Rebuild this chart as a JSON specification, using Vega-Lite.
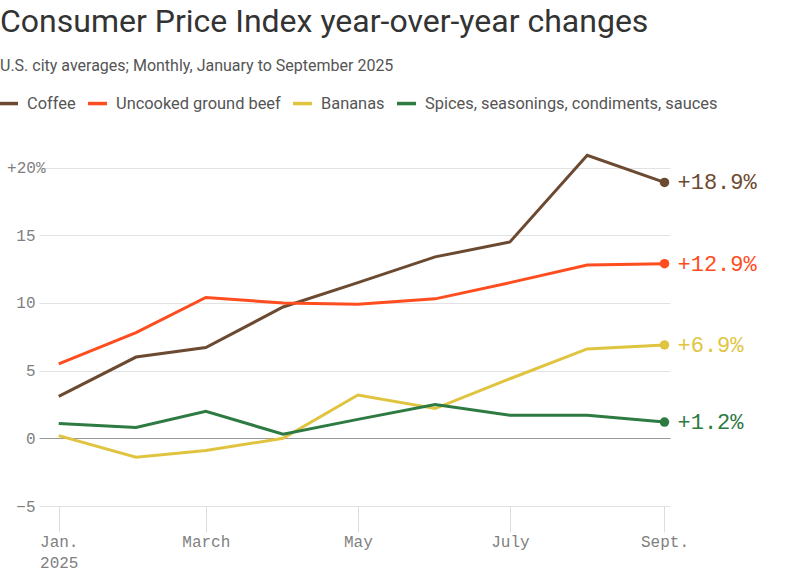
{
  "$schema": "https://vega.github.io/schema/vega-lite/v6.json",
  "width": 631,
  "height": 352,
  "autosize": "none",
  "padding": {"left": 39, "top": 154, "right": 130, "bottom": 72},
  "background": "white",
  "title": {
    "text": "Consumer Price Index year-over-year changes",
    "subtitle": "U.S. city averages; Monthly, January to September 2025",
    "anchor": "start",
    "frame": "group",
    "dx": -39,
    "offset": 17,
    "font": "Roboto",
    "fontSize": 32,
    "fontWeight": "normal",
    "color": "#333333",
    "subtitleFont": "Roboto",
    "subtitleFontSize": 16,
    "subtitleColor": "#555555",
    "subtitlePadding": 19
  },
  "config": {"view": {"stroke": null}},
  "data": {
    "values": [
      {"date": "2025-01-01", "series": "Coffee", "value": 3.1},
      {"date": "2025-02-01", "series": "Coffee", "value": 6.0},
      {"date": "2025-03-01", "series": "Coffee", "value": 6.7},
      {"date": "2025-04-01", "series": "Coffee", "value": 9.7},
      {"date": "2025-05-01", "series": "Coffee", "value": 11.5},
      {"date": "2025-06-01", "series": "Coffee", "value": 13.4},
      {"date": "2025-07-01", "series": "Coffee", "value": 14.5},
      {"date": "2025-08-01", "series": "Coffee", "value": 20.9},
      {"date": "2025-09-01", "series": "Coffee", "value": 18.9},
      {"date": "2025-01-01", "series": "Uncooked ground beef", "value": 5.5},
      {"date": "2025-02-01", "series": "Uncooked ground beef", "value": 7.8},
      {"date": "2025-03-01", "series": "Uncooked ground beef", "value": 10.4},
      {"date": "2025-04-01", "series": "Uncooked ground beef", "value": 10.0},
      {"date": "2025-05-01", "series": "Uncooked ground beef", "value": 9.9},
      {"date": "2025-06-01", "series": "Uncooked ground beef", "value": 10.3},
      {"date": "2025-07-01", "series": "Uncooked ground beef", "value": 11.5},
      {"date": "2025-08-01", "series": "Uncooked ground beef", "value": 12.8},
      {"date": "2025-09-01", "series": "Uncooked ground beef", "value": 12.9},
      {"date": "2025-01-01", "series": "Bananas", "value": 0.2},
      {"date": "2025-02-01", "series": "Bananas", "value": -1.4},
      {"date": "2025-03-01", "series": "Bananas", "value": -0.9},
      {"date": "2025-04-01", "series": "Bananas", "value": 0.0},
      {"date": "2025-05-01", "series": "Bananas", "value": 3.2},
      {"date": "2025-06-01", "series": "Bananas", "value": 2.2},
      {"date": "2025-07-01", "series": "Bananas", "value": 4.4},
      {"date": "2025-08-01", "series": "Bananas", "value": 6.6},
      {"date": "2025-09-01", "series": "Bananas", "value": 6.9},
      {"date": "2025-01-01", "series": "Spices, seasonings, condiments, sauces", "value": 1.1},
      {"date": "2025-02-01", "series": "Spices, seasonings, condiments, sauces", "value": 0.8},
      {"date": "2025-03-01", "series": "Spices, seasonings, condiments, sauces", "value": 2.0},
      {"date": "2025-04-01", "series": "Spices, seasonings, condiments, sauces", "value": 0.3},
      {"date": "2025-05-01", "series": "Spices, seasonings, condiments, sauces", "value": 1.4},
      {"date": "2025-06-01", "series": "Spices, seasonings, condiments, sauces", "value": 2.5},
      {"date": "2025-07-01", "series": "Spices, seasonings, condiments, sauces", "value": 1.7},
      {"date": "2025-08-01", "series": "Spices, seasonings, condiments, sauces", "value": 1.7},
      {"date": "2025-09-01", "series": "Spices, seasonings, condiments, sauces", "value": 1.2}
    ]
  },
  "encoding": {
    "x": {
      "field": "date",
      "type": "temporal",
      "scale": {
        "type": "utc",
        "domain": [
          {"year": 2024, "month": 12, "date": 24, "hours": 2, "utc": true},
          {"year": 2025, "month": 9, "date": 3, "hours": 5, "utc": true}
        ]
      },
      "axis": {
        "title": null,
        "grid": false,
        "domain": false,
        "ticks": true,
        "tickColor": "#dddddd",
        "tickSize": 26,
        "values": [
          {"year": 2025, "month": 1, "date": 1, "utc": true},
          {"year": 2025, "month": 3, "date": 1, "utc": true},
          {"year": 2025, "month": 5, "date": 1, "utc": true},
          {"year": 2025, "month": 7, "date": 1, "utc": true},
          {"year": 2025, "month": 9, "date": 1, "utc": true}
        ],
        "labelExpr": "utcmonth(datum.value) == 0 ? ['Jan.', '2025'] : utcmonth(datum.value) == 2 ? 'March' : utcmonth(datum.value) == 4 ? 'May' : utcmonth(datum.value) == 6 ? 'July' : 'Sept.'",
        "labelFont": "Liberation Mono",
        "labelFontSize": 16,
        "labelColor": "#808080",
        "labelPadding": 1,
        "labelLineHeight": 21,
        "labelFlush": false,
        "labelOverlap": false
      }
    },
    "y": {
      "field": "value",
      "type": "quantitative",
      "scale": {"domain": [-5, 21], "nice": false, "zero": false},
      "axis": {
        "title": null,
        "values": [-5, 0, 5, 10, 15, 20],
        "domain": false,
        "ticks": false,
        "grid": true,
        "gridColor": {"condition": {"test": "datum.value === 0", "value": "#999999"}, "value": "#e2e2e2"},
        "gridWidth": 1,
        "labelExpr": "datum.value == 20 ? '+20%' : datum.label",
        "labelFont": "Liberation Mono",
        "labelFontSize": 16,
        "labelColor": "#808080",
        "labelPadding": {"condition": {"test": "datum.value == 20", "value": -6}, "value": 4}
      }
    },
    "color": {
      "field": "series",
      "type": "nominal",
      "scale": {
        "domain": ["Coffee", "Uncooked ground beef", "Bananas", "Spices, seasonings, condiments, sauces"],
        "range": ["#6b4a31", "#ff4d1f", "#e0c440", "#2d7a42"]
      },
      "legend": {
        "orient": "none",
        "legendX": -42,
        "legendY": -62,
        "direction": "horizontal",
        "title": null,
        "symbolType": "stroke",
        "symbolSize": 361,
        "symbolStrokeWidth": 3.5,
        "labelFont": "Roboto",
        "labelFontSize": 16.4,
        "labelColor": "#555555",
        "columnPadding": 5,
        "labelOffset": 7,
        "labelLimit": 400
      }
    }
  },
  "layer": [
    {
      "mark": {"type": "line", "strokeWidth": 3}
    },
    {
      "transform": [{"filter": "utcmonth(datum.date) == 8"}],
      "mark": {"type": "point", "filled": true, "size": 90, "opacity": 1}
    },
    {
      "transform": [
        {"filter": "utcmonth(datum.date) == 8"},
        {"calculate": "'+' + format(datum.value, '.1f') + '%'", "as": "label"}
      ],
      "mark": {"type": "text", "align": "left", "baseline": "middle", "dx": 13, "font": "Liberation Mono", "fontSize": 22},
      "encoding": {
        "text": {"field": "label"}
      }
    }
  ]
}
